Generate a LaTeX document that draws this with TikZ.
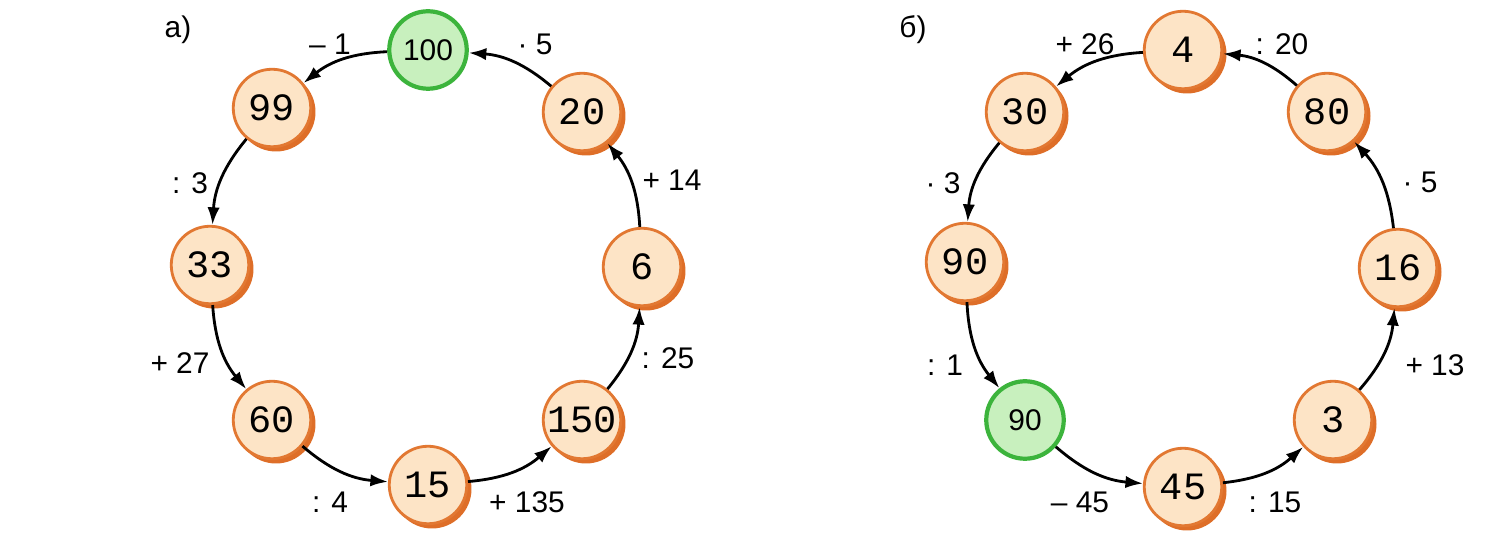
\documentclass[tikz,border=0pt]{standalone}
\usepackage{fontspec}
\setmainfont{Liberation Sans}
\newfontfamily\mono{Liberation Mono}
\usetikzlibrary{arrows.meta}
\definecolor{ofill}{RGB}{253,228,198}
\definecolor{oline}{RGB}{226,120,50}
\definecolor{oshad}{RGB}{222,110,40}
\definecolor{gfill}{RGB}{200,240,190}
\definecolor{gline}{RGB}{60,180,60}
\begin{document}
\begin{tikzpicture}[x=0.02cm,y=-0.02cm,
  orn/.style={circle,minimum size=1.55cm,inner sep=0pt,fill=ofill,draw=oline,line width=1.6pt,
    font=\mono\fontsize{22}{22}\selectfont},
  grn/.style={circle,minimum size=1.55cm,inner sep=0pt,fill=gfill,draw=gline,line width=2.4pt,
    font=\fontsize{17}{17}\selectfont},
  arr/.style={-{Latex[length=10pt,width=7pt]},line width=1.6pt,bend right=18},
  lab/.style={font=\fontsize{17}{17}\selectfont}]
\useasboundingbox (0,0) rectangle (1509,543);
% left
\foreach \x/\y in {582/112,642/267,582/420,428/485,272/420,210/265,272/108}{\fill[oshad] (\x+4,\y+4) circle (0.79cm);}
\node[grn] (a0) at (428,50) {100};
\node[orn] (a1) at (582,112) {20};
\node[orn] (a2) at (642,267) {6};
\node[orn] (a3) at (582,420) {150};
\node[orn] (a4) at (428,485) {15};
\node[orn] (a5) at (272,420) {60};
\node[orn] (a6) at (210,265) {33};
\node[orn] (a7) at (272,108) {99};
\draw[arr] (a0) to (a7);
\draw[arr] (a7) to (a6);
\draw[arr] (a6) to (a5);
\draw[arr] (a5) to (a4);
\draw[arr] (a4) to (a3);
\draw[arr] (a3) to (a2);
\draw[arr] (a2) to (a1);
\draw[arr] (a1) to (a0);
\node[lab] (ta) at (178,30) {а)};
\node[lab] (l1) at (330,44) {– 1};
\node[lab] (l2) at (535,44) {· 5};
\node[lab] (l3) at (672,180) {+ 14};
\node[lab] (l4) at (668,358) {: 25};
\node[lab] (l5) at (527,502) {+ 135};
\node[lab] (l6) at (330,502) {: 4};
\node[lab] (l7) at (180,363) {+ 27};
\node[lab] (l8) at (190,183) {: 3};
% right
\foreach \x/\y in {1183/50,1327/112,1398/268,1333/420,1183/487,965/262,1025/112}{\fill[oshad] (\x+4,\y+4) circle (0.79cm);}
\node[orn] (b0) at (1183,50) {4};
\node[orn] (b1) at (1327,112) {80};
\node[orn] (b2) at (1398,268) {16};
\node[orn] (b3) at (1333,420) {3};
\node[orn] (b4) at (1183,487) {45};
\node[grn] (b5) at (1025,420) {90};
\node[orn] (b6) at (965,262) {90};
\node[orn] (b7) at (1025,112) {30};
\draw[arr] (b0) to (b7);
\draw[arr] (b7) to (b6);
\draw[arr] (b6) to (b5);
\draw[arr] (b5) to (b4);
\draw[arr] (b4) to (b3);
\draw[arr] (b3) to (b2);
\draw[arr] (b2) to (b1);
\draw[arr] (b1) to (b0);
\node[lab] (tb) at (913,30) {б)};
\node[lab] (m1) at (1085,44) {+ 26};
\node[lab] (m2) at (1282,44) {: 20};
\node[lab] (m3) at (1420,182) {· 5};
\node[lab] (m4) at (1435,365) {+ 13};
\node[lab] (m5) at (1275,502) {: 15};
\node[lab] (m6) at (1080,502) {– 45};
\node[lab] (m7) at (945,365) {: 1};
\node[lab] (m8) at (943,183) {· 3};
\end{tikzpicture}
\end{document}
